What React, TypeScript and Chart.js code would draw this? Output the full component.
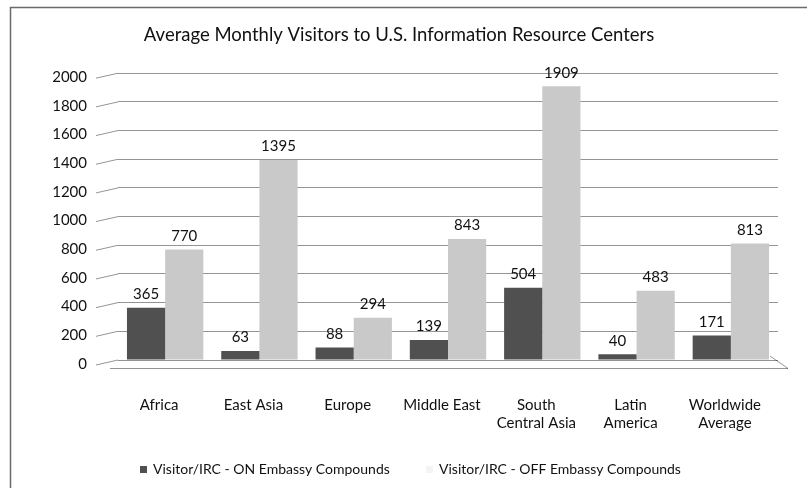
import React, { useEffect, useRef } from 'react';
import { Chart, registerables } from 'chart.js';

Chart.register(...registerables);

const TITLE = 'Average Monthly Visitors to U.S. Information Resource Centers';
const categories: string[][] = [
  ['Africa'],
  ['East Asia'],
  ['Europe'],
  ['Middle East'],
  ['South', 'Central Asia'],
  ['Latin', 'America'],
  ['Worldwide', 'Average'],
];
const seriesNames = ['Visitor/IRC - ON Embassy Compounds', 'Visitor/IRC - OFF Embassy Compounds'];
const onValues = [365, 63, 88, 139, 504, 40, 171];
const offValues = [770, 1395, 294, 843, 1909, 483, 813];
const yMin = 0;
const yMax = 2000;
const yStep = 200;

const FONT = 'Lato, "Open Sans", sans-serif';
const DARK = '#505050';
const LIGHT = '#c9c9c9';
const GRID = 'rgba(0,0,0,0.42)';

const framePlugin = {
  id: 'frame',
  beforeDraw(chart: any) {
    const { ctx, width, height } = chart;
    ctx.save();
    ctx.fillStyle = '#ffffff';
    ctx.fillRect(0, 0, width, height);
    ctx.strokeStyle = '#6a6a6a';
    ctx.lineWidth = 1.5;
    ctx.beginPath();
    ctx.moveTo(width, 7.5);
    ctx.lineTo(10.5, 7.5);
    ctx.lineTo(10.5, height);
    ctx.stroke();
    ctx.restore();
  },
};

const floorPlugin = {
  id: 'floor3d',
  beforeDatasetsDraw(chart: any) {
    const { ctx, chartArea } = chart;
    const y = chart.scales.y;
    const { left, right, bottom } = chartArea;
    ctx.save();
    ctx.strokeStyle = GRID;
    ctx.lineWidth = 1;
    y.ticks.forEach((t: any) => {
      const py = y.getPixelForValue(t.value);
      ctx.beginPath();
      ctx.moveTo(left - 22, py + 5);
      ctx.lineTo(left, py);
      ctx.stroke();
    });
    ctx.beginPath();
    ctx.moveTo(left - 8, bottom + 8.5);
    ctx.lineTo(right + 10, bottom + 8.5);
    ctx.lineTo(right - 8, bottom - 4);
    ctx.stroke();
    ctx.restore();
  },
};

const valueLabelPlugin = {
  id: 'valueLabels',
  afterDatasetsDraw(chart: any) {
    const { ctx } = chart;
    ctx.save();
    ctx.font = `15px ${FONT}`;
    ctx.fillStyle = '#111111';
    ctx.textAlign = 'center';
    ctx.textBaseline = 'bottom';
    chart.data.datasets.forEach((ds: any, di: number) => {
      const meta = chart.getDatasetMeta(di);
      meta.data.forEach((bar: any, i: number) => {
        ctx.fillText(String(ds.data[i]), bar.x, bar.y - 6);
      });
    });
    ctx.restore();
  },
};

const legendPlugin = {
  id: 'customLegend',
  afterDraw(chart: any) {
    const { ctx } = chart;
    const items = [
      { box: 140, text: 153, color: DARK },
      { box: 426, text: 439, color: '#f4f4f4' },
    ];
    ctx.save();
    ctx.font = `14px ${FONT}`;
    ctx.textAlign = 'left';
    ctx.textBaseline = 'middle';
    chart.data.datasets.forEach((ds: any, i: number) => {
      const it = items[i];
      ctx.fillStyle = it.color;
      ctx.fillRect(it.box, 466, 7, 7);
      ctx.fillStyle = '#111111';
      ctx.fillText(ds.label, it.text, 469.5);
    });
    ctx.restore();
  },
};

export default function App() {
  const ref = useRef<HTMLCanvasElement | null>(null);

  useEffect(() => {
    if (!ref.current) return;
    const chart = new Chart(ref.current, {
      type: 'bar',
      data: {
        labels: categories,
        datasets: [
          {
            label: seriesNames[0],
            data: onValues,
            backgroundColor: DARK,
            borderWidth: 0,
            categoryPercentage: 0.81,
            barPercentage: 1.0,
          },
          {
            label: seriesNames[1],
            data: offValues,
            backgroundColor: LIGHT,
            borderWidth: 0,
            categoryPercentage: 0.81,
            barPercentage: 1.0,
          },
        ],
      },
      options: {
        animation: false,
        responsive: false,
        maintainAspectRatio: false,
        devicePixelRatio: 1,
        layout: { padding: { left: 20, right: 29, top: 0, bottom: 36 } },
        plugins: {
          legend: { display: false },
          tooltip: { enabled: false },
          title: {
            display: true,
            text: TITLE,
            color: '#111111',
            font: { family: FONT, size: 18.5, weight: 'normal' },
            padding: { top: 24, bottom: 27 },
          },
        },
        scales: {
          x: {
            grid: { display: false, drawTicks: false },
            border: { display: false },
            ticks: {
              color: '#111111',
              font: { family: FONT, size: 15 },
              padding: 36,
              labelOffset: -6,
              maxRotation: 0,
              autoSkip: false,
            },
            afterFit: (s: any) => {
              s.height = 92;
            },
          },
          y: {
            min: yMin,
            max: yMax,
            grid: { color: GRID, lineWidth: 1, drawTicks: false },
            border: { display: false },
            ticks: {
              stepSize: yStep,
              color: '#111111',
              font: { family: FONT, size: 15 },
              padding: 31,
              labelOffset: 4,
              callback: (v: any) => String(v),
            },
            afterFit: (s: any) => {
              s.width = 98;
            },
          },
        },
      },
      plugins: [framePlugin, floorPlugin, valueLabelPlugin, legendPlugin],
    });
    return () => chart.destroy();
  }, []);

  return (
    <div style={{ position: 'fixed', left: 0, top: 0, width: 807, height: 488, background: '#fff' }}>
      <canvas ref={ref} width={807} height={488} style={{ display: 'block', width: 807, height: 488 }} />
    </div>
  );
}
